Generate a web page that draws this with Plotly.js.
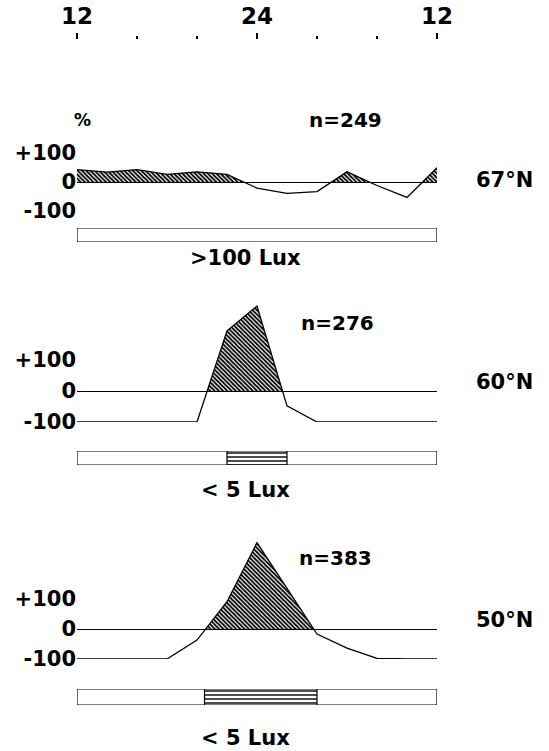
<!DOCTYPE html>
<html>
<head>
<meta charset="utf-8">
<script src="https://cdn.plot.ly/plotly-3.0.1.min.js"></script>
<style>html,body{margin:0;padding:0;background:#fff;}#chart{width:549px;height:751px;}</style>
</head>
<body>
<div id="chart"></div>
<script>
// ---- data ----
var hours = [12, 14, 16, 18, 20, 22, 24, 26, 28, 30, 32, 34, 36];
var topTickVals = [12, 24, 36];
var topTickText = ['12', '24', '12'];
var minorTickVals = [16, 20, 28, 32];
var pct67 = [43, 34, 43, 26, 35, 26, -21, -39, -33, 35, -12, -53, 49];
var pct60 = [-100, -100, -100, -100, -100, 194, 274, -48, -100, -100, -100, -100, -100];
var pct50 = [-100, -100, -100, -100, -37, 91, 288, 134, -17, -64, -98, -100, -100];
var yTickVals = [-100, 0, 100];
var yTickText = ['-100', '0', '+100'];
var latitudes = ['67°N', '60°N', '50°N'];
var sampleN = ['n=249', 'n=276', 'n=383'];
var luxLabels = ['>100 Lux', '< 5 Lux', '< 5 Lux'];
var darkStart = [null, 22, 20.5];
var darkEnd = [null, 26, 28];

// ---- helpers ----
function positivePart(xs, ys) {
  var ox = [], oy = [];
  for (var i = 0; i < xs.length; i++) {
    if (i > 0) {
      var y0 = ys[i - 1], y1 = ys[i];
      if ((y0 > 0 && y1 < 0) || (y0 < 0 && y1 > 0)) {
        var t = y0 / (y0 - y1);
        ox.push(xs[i - 1] + t * (xs[i] - xs[i - 1]));
        oy.push(0);
      }
    }
    ox.push(xs[i]);
    oy.push(Math.max(0, ys[i]));
  }
  return {x: ox, y: oy};
}

var FONT = 'DejaVu Sans, Liberation Sans, Arial, sans-serif';
var series = [pct67, pct60, pct50];
var traces = [];
for (var k = 0; k < 3; k++) {
  var ya = 'y' + (k === 0 ? '' : (k + 1));
  var pos = positivePart(hours, series[k]);
  traces.push({
    type: 'scatter', mode: 'lines', x: pos.x, y: pos.y, xaxis: 'x', yaxis: ya,
    fill: 'tozeroy', line: {width: 0, color: 'rgba(0,0,0,0)'},
    fillcolor: 'white',
    fillpattern: {shape: '\\', fgcolor: 'black', bgcolor: 'white', size: 3, solidity: 0.6},
    hoverinfo: 'skip'
  });
  traces.push({
    type: 'scatter', mode: 'lines', x: hours, y: series[k], xaxis: 'x', yaxis: ya,
    line: {color: 'black', width: 1.3}, hoverinfo: 'skip'
  });
  // light bar
  var yb = 'y' + (k + 4);
  traces.push({
    type: 'bar', orientation: 'h', y: [0.5], x: [hours[hours.length - 1] - hours[0]], base: [hours[0]],
    width: [1], xaxis: 'x', yaxis: yb,
    marker: {color: 'white', line: {color: 'black', width: 1.2}}, hoverinfo: 'skip'
  });
  if (darkStart[k] !== null) {
    traces.push({
      type: 'bar', orientation: 'h', y: [0.5], x: [darkEnd[k] - darkStart[k]], base: [darkStart[k]],
      width: [1], xaxis: 'x', yaxis: yb,
      marker: {color: 'white', line: {color: 'black', width: 1.2},
        pattern: {shape: '-', fgcolor: 'black', bgcolor: 'white', size: 4, solidity: 0.35}},
      hoverinfo: 'skip'
    });
  }
}

function px2py(p) { return 1 - p / 751; }
function px2px(p) { return p / 549; }

function lineAxis(bottomPx, topPx, range) {
  return {
    domain: [px2py(bottomPx), px2py(topPx)], range: range, anchor: 'x',
    showgrid: false, showline: false, ticks: '',
    zeroline: true, zerolinecolor: 'black', zerolinewidth: 1,
    tickvals: yTickVals, ticktext: yTickText,
    tickfont: {family: FONT, size: 21, color: 'black', weight: 'bold'},
    fixedrange: true
  };
}
function barAxis(bottomPx, topPx) {
  return {domain: [px2py(bottomPx), px2py(topPx)], range: [0, 1], visible: false, anchor: 'x', fixedrange: true};
}

function ann(text, xpx, ypx, size) {
  return {text: text, x: px2px(xpx), y: px2py(ypx), xref: 'paper', yref: 'paper',
    xanchor: 'center', yanchor: 'middle', showarrow: false,
    font: {family: FONT, size: size, color: 'black', weight: 'bold'}};
}
var annotations = [ann('%', 82, 120, 17)];
var nX = [345, 337, 335];
var nY = [120, 323, 558];
var latY = [180, 382, 620];
var luxY = [258, 490, 738];
for (var j = 0; j < 3; j++) {
  annotations.push(ann(sampleN[j], nX[j], nY[j], 20));
  annotations.push(ann(latitudes[j], 505, latY[j], 21));
  annotations.push(ann(luxLabels[j], 245, luxY[j], 21));
}

var layout = {
  width: 549, height: 751,
  margin: {l: 0, r: 0, t: 0, b: 0},
  paper_bgcolor: 'white', plot_bgcolor: 'white',
  showlegend: false, barmode: 'overlay',
  xaxis: {
    domain: [px2px(77), px2px(437)], range: [12, 36], side: 'top', anchor: 'free', position: px2py(39),
    showgrid: false, showline: false, zeroline: false,
    tickvals: topTickVals, ticktext: topTickText, ticks: 'outside', ticklen: 6, tickwidth: 1.5, tickcolor: 'black',
    minor: {tickvals: minorTickVals, ticks: 'outside', ticklen: 3, tickwidth: 2, tickcolor: 'black', showgrid: false},
    tickfont: {family: FONT, size: 23, color: 'black', weight: 'bold'},
    fixedrange: true
  },
  yaxis: lineAxis(211, 153, [-100, 100]),
  yaxis2: lineAxis(422, 304.2, [-100, 280]),
  yaxis3: lineAxis(659, 542, [-100, 290]),
  yaxis4: barAxis(242, 228),
  yaxis5: barAxis(465, 451),
  yaxis6: barAxis(705, 689),
  annotations: annotations
};

Plotly.newPlot('chart', traces, layout, {staticPlot: true, displayModeBar: false});
</script>
</body>
</html>
